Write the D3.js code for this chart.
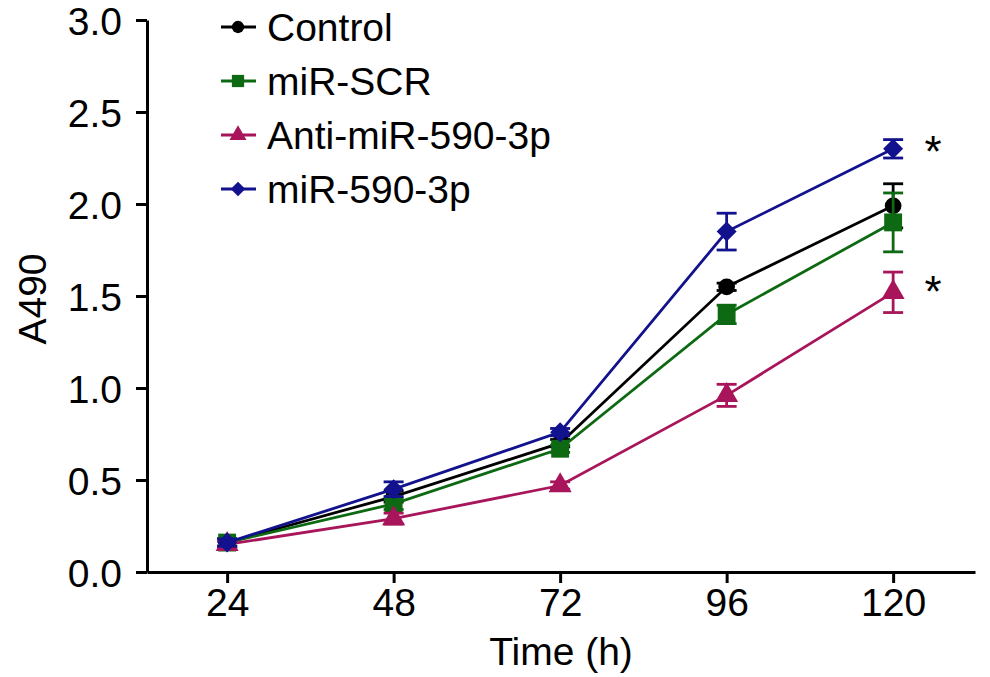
<!DOCTYPE html>
<html>
<head>
<meta charset="utf-8">
<script src="https://cdn.jsdelivr.net/npm/d3@7"></script>
<style>
  body { margin: 0; background: #fff; }
  text { font-family: "Liberation Sans", Arial, sans-serif; }
</style>
</head>
<body>
<svg id="chart" width="990" height="677"></svg>
<script>
// values
const times = [24, 48, 72, 96, 120];
const yTicks = [0, 0.5, 1.0, 1.5, 2.0, 2.5, 3.0];

const controlMean = [0.16, 0.41, 0.70, 1.55, 1.99];
const controlErr  = [0.02, 0.03, 0.02, 0.02, 0.12];
const scrMean     = [0.16, 0.37, 0.67, 1.40, 1.90];
const scrErr      = [0.02, 0.03, 0.02, 0.05, 0.16];
const antiMean    = [0.15, 0.29, 0.47, 0.96, 1.52];
const antiErr     = [0.02, 0.03, 0.02, 0.06, 0.11];
const mirMean     = [0.16, 0.45, 0.76, 1.85, 2.30];
const mirErr      = [0.02, 0.04, 0.02, 0.10, 0.05];

const seriesNames = ["Control", "miR-SCR", "Anti-miR-590-3p", "miR-590-3p"];
const seriesColors = ["#000000", "#0e6a12", "#a8155a", "#12128e"];
const seriesSymbols = [d3.symbolCircle, d3.symbolSquare, d3.symbolTriangle, d3.symbolSquare];
const seriesRotate = [0, 0, 0, 45];
const seriesMeans = [controlMean, scrMean, antiMean, mirMean];
const seriesErrs = [controlErr, scrErr, antiErr, mirErr];

// significance marks (time, value)
const starTimes = [120, 120];
const starValues = [2.31, 1.55];

const svg = d3.select("#chart");
const plotLeft = 147, plotBottom = 572, plotTop = 20, plotRight = 975;

const x = d3.scaleLinear().domain([12.45, 131.8]).range([plotLeft, plotRight]);
const y = d3.scaleLinear().domain([0, 3]).range([plotBottom, plotTop]);

// axes
const xAxis = svg.append("g")
    .attr("transform", "translate(0," + plotBottom + ")")
    .call(d3.axisBottom(x).tickValues(times).tickSize(11).tickPadding(5).tickSizeOuter(0));
const yAxis = svg.append("g")
    .attr("transform", "translate(" + plotLeft + ",0)")
    .call(d3.axisLeft(y).tickValues(yTicks).tickFormat(d3.format(".1f")).tickSize(11).tickPadding(14).tickSizeOuter(0));

[xAxis, yAxis].forEach(function(ax) {
    ax.select(".domain").attr("stroke", "#000").attr("stroke-width", 3);
    ax.selectAll(".tick line").attr("stroke", "#000").attr("stroke-width", 3);
    ax.selectAll(".tick text")
        .attr("fill", "#000")
        .style("font-size", "39px")
        .style("font-family", "'Liberation Sans', Arial, sans-serif");
});
yAxis.selectAll(".tick text").attr("dy", "0.36em");

// axis titles
svg.append("text")
    .attr("x", 561).attr("y", 665)
    .attr("text-anchor", "middle")
    .style("font-size", "39px")
    .text("Time (h)");
svg.append("text")
    .attr("transform", "translate(46,299) rotate(-90)")
    .attr("text-anchor", "middle")
    .style("font-size", "39px")
    .text("A490");

// series
const line = d3.line()
    .x(function(d) { return x(d.t); })
    .y(function(d) { return y(d.v); });

const sizes = [220, 320, 230, 200];
const legendSizes = [120, 150, 125, 105];

seriesNames.forEach(function(name, i) {
    const color = seriesColors[i];
    const pts = times.map(function(t, j) {
        return { t: t, v: seriesMeans[i][j], e: seriesErrs[i][j] };
    });
    const g = svg.append("g");

    g.append("path")
        .datum(pts)
        .attr("fill", "none")
        .attr("stroke", color)
        .attr("stroke-width", 2.8)
        .attr("d", line);

    // error bars
    const eb = g.selectAll(".eb").data(pts).enter().append("g");
    eb.append("line")
        .attr("x1", function(d) { return x(d.t); })
        .attr("x2", function(d) { return x(d.t); })
        .attr("y1", function(d) { return y(d.v + d.e); })
        .attr("y2", function(d) { return y(d.v - d.e); })
        .attr("stroke", color).attr("stroke-width", 2.8);
    [1, -1].forEach(function(s) {
        eb.append("line")
            .attr("x1", function(d) { return x(d.t) - 10; })
            .attr("x2", function(d) { return x(d.t) + 10; })
            .attr("y1", function(d) { return y(d.v + s * d.e); })
            .attr("y2", function(d) { return y(d.v + s * d.e); })
            .attr("stroke", color).attr("stroke-width", 2.8);
    });

    g.selectAll(".pt").data(pts).enter()
        .append("path")
        .attr("d", d3.symbol().type(seriesSymbols[i]).size(sizes[i]))
        .attr("transform", function(d) {
            return "translate(" + x(d.t) + "," + y(d.v) + ") rotate(" + seriesRotate[i] + ")";
        })
        .attr("fill", color);

    // legend
    const ly = 27 + i * 54;
    svg.append("line")
        .attr("x1", 221).attr("x2", 256)
        .attr("y1", ly).attr("y2", ly)
        .attr("stroke", color).attr("stroke-width", 2.8);
    svg.append("path")
        .attr("d", d3.symbol().type(seriesSymbols[i]).size(legendSizes[i]))
        .attr("transform", "translate(238," + ly + ") rotate(" + seriesRotate[i] + ")")
        .attr("fill", color);
    svg.append("text")
        .attr("x", 267).attr("y", ly)
        .attr("dy", "0.36em")
        .style("font-size", "39px")
        .text(name);
});

// stars
svg.selectAll(".star").data(starTimes).enter()
    .append("text")
    .attr("x", function(d) { return x(d) + 40; })
    .attr("y", function(d, i) { return y(starValues[i]) + 20; })
    .attr("text-anchor", "middle")
    .style("font-size", "44px")
    .text("*");
</script>
</body>
</html>
